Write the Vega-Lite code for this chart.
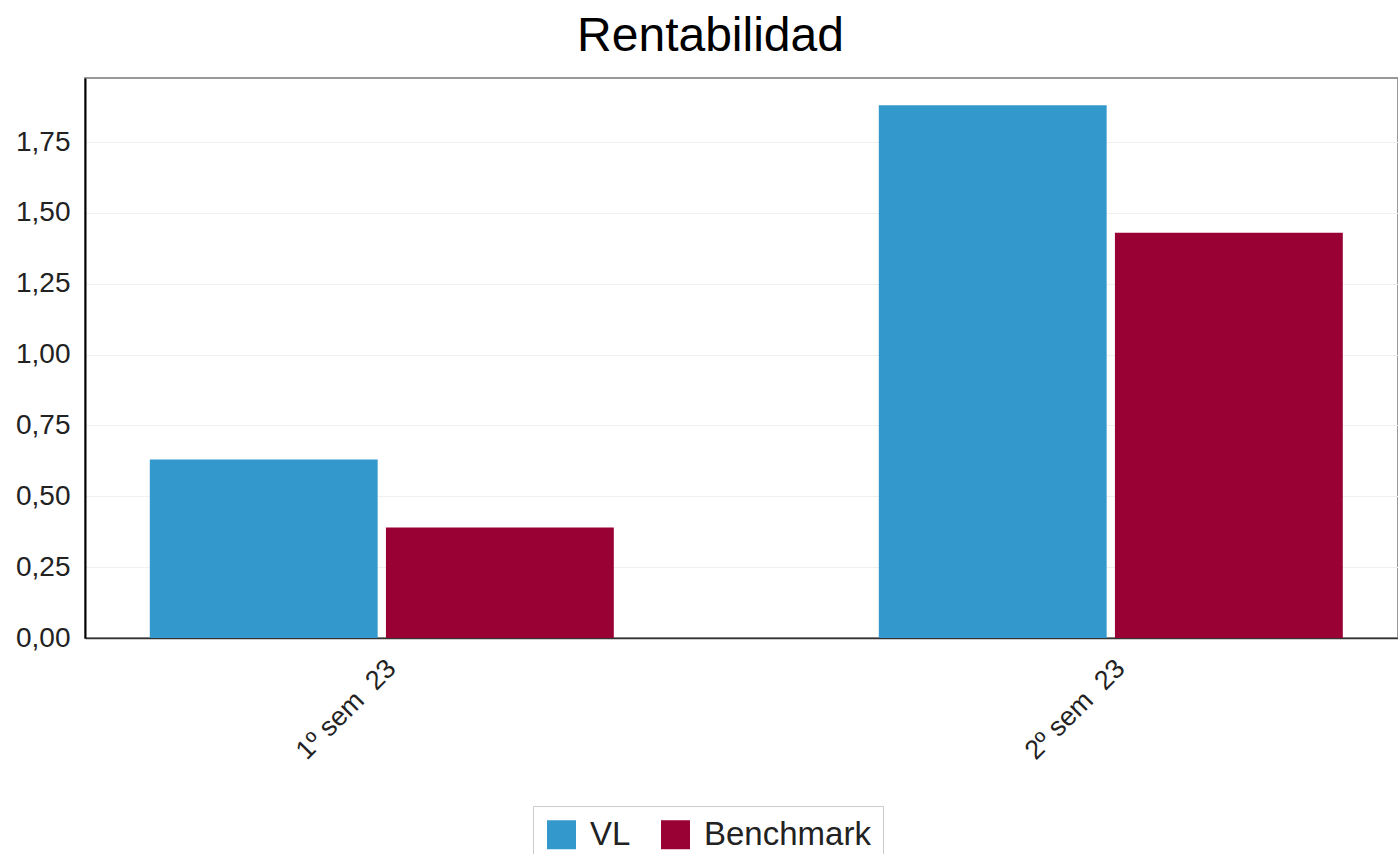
{
  "$schema": "https://vega.github.io/schema/vega-lite/v6.json",
  "width": 1313,
  "height": 560,
  "autosize": {"type": "none"},
  "padding": {"left": 85, "top": 78, "right": 0, "bottom": 216},
  "background": "white",
  "title": {
    "text": "Rentabilidad",
    "fontSize": 48,
    "font": "Liberation Sans",
    "fontWeight": "normal",
    "color": "#000000",
    "anchor": "middle",
    "dx": -31,
    "offset": -21,
    "baseline": "alphabetic"
  },
  "data": {
    "values": [
      {"periodo": "1º sem\u00a0 23", "serie": "VL", "valor": 0.63},
      {"periodo": "1º sem\u00a0 23", "serie": "Benchmark", "valor": 0.39},
      {"periodo": "2º sem\u00a0 23", "serie": "VL", "valor": 1.88},
      {"periodo": "2º sem\u00a0 23", "serie": "Benchmark", "valor": 1.43}
    ]
  },
  "mark": {"type": "bar"},
  "encoding": {
    "x": {
      "field": "periodo",
      "type": "nominal",
      "sort": ["1º sem\u00a0 23", "2º sem\u00a0 23"],
      "scale": {"paddingInner": 0.3635, "paddingOuter": 0.0823, "align": 0.54},
      "axis": {
        "title": null,
        "labelAngle": -45,
        "labelAlign": "right",
        "labelBaseline": "middle",
        "labelFontSize": 27,
        "labelFont": "Liberation Sans",
        "labelColor": "#222222",
        "labelOffset": 10,
        "ticks": false,
        "labelPadding": 26,
        "domainColor": "#333333",
        "domainWidth": 1.5,
        "grid": false
      }
    },
    "xOffset": {
      "field": "serie",
      "type": "nominal",
      "sort": ["VL", "Benchmark"],
      "scale": {"paddingInner": 0.035, "paddingOuter": 0}
    },
    "y": {
      "field": "valor",
      "type": "quantitative",
      "scale": {"domain": [0, 1.976], "nice": false, "zero": true},
      "axis": {
        "title": null,
        "values": [0, 0.25, 0.5, 0.75, 1, 1.25, 1.5, 1.75],
        "labelExpr": "replace(format(datum.value, '.2f'), '.', ',')",
        "ticks": false,
        "labelPadding": 15,
        "labelFontSize": 28,
        "labelFont": "Liberation Sans",
        "labelColor": "#222222",
        "domainColor": "#000000",
        "domainWidth": 2,
        "grid": true,
        "gridColor": "#f0f0f0"
      }
    },
    "color": {
      "field": "serie",
      "type": "nominal",
      "sort": ["VL", "Benchmark"],
      "scale": {"range": ["#3399cc", "#990033"]},
      "legend": {
        "title": null,
        "orient": "none",
        "legendX": 448,
        "legendY": 728,
        "direction": "horizontal",
        "symbolType": "square",
        "symbolSize": 841,
        "symbolStrokeWidth": 0,
        "symbolOpacity": 1,
        "labelFontSize": 33,
        "labelFont": "Liberation Sans",
        "labelColor": "#222222",
        "labelOffset": 12,
        "labelLimit": 400,
        "columnPadding": 28,
        "padding": 12,
        "strokeColor": "#cccccc",
        "fillColor": "white"
      }
    }
  },
  "config": {"view": {"stroke": "#999999", "strokeWidth": 2}}
}
